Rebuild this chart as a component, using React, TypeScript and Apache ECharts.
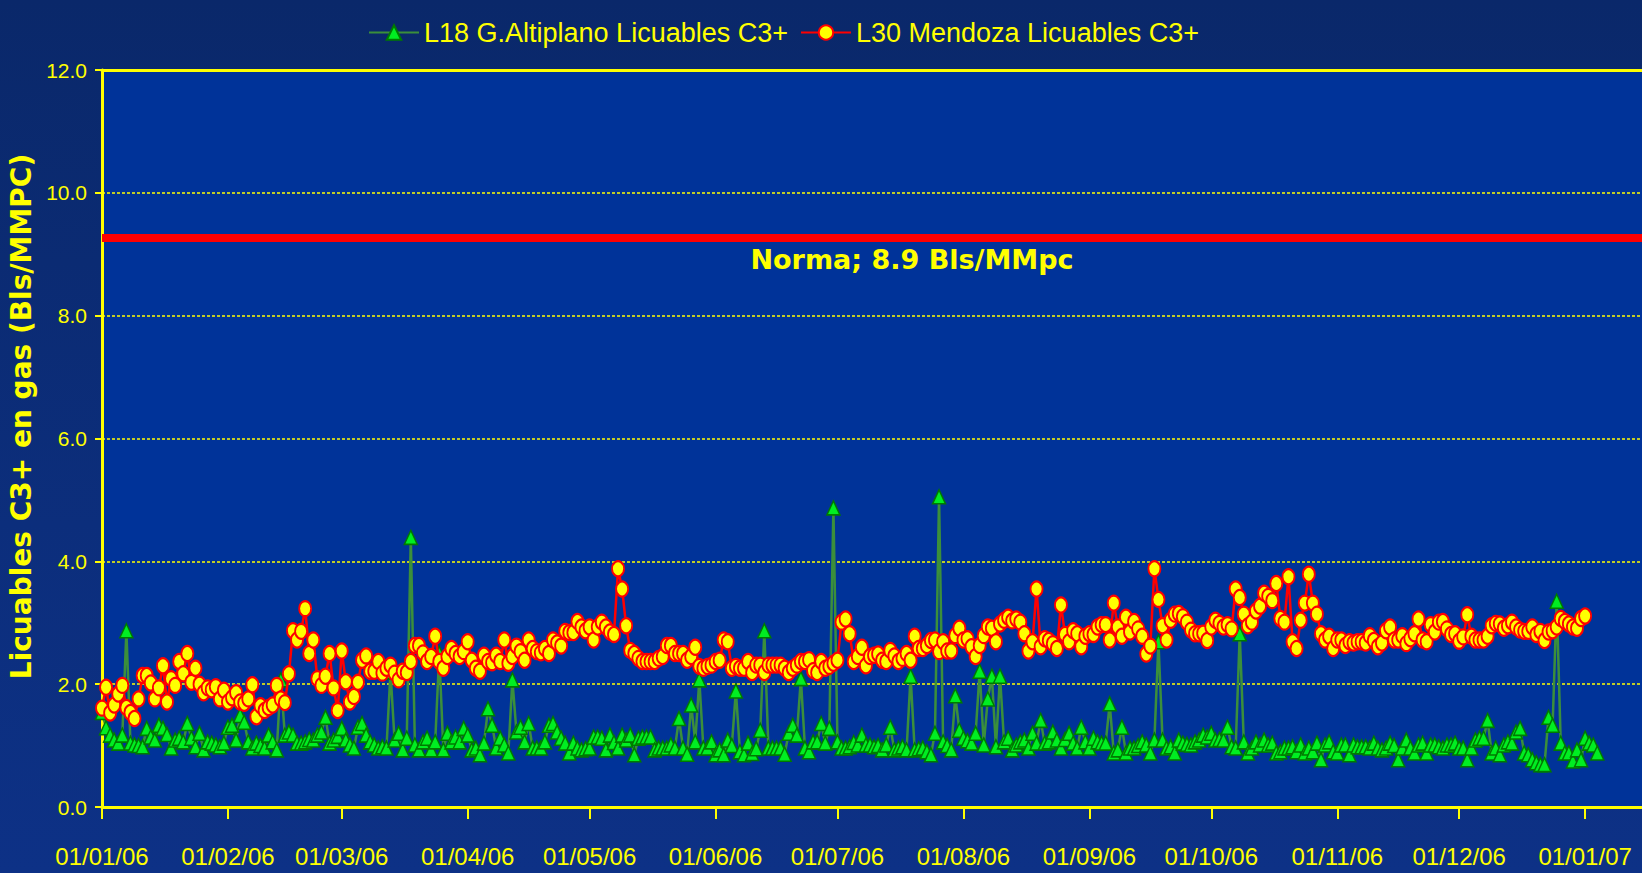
import React, { useEffect, useRef } from "react";
import * as echarts from "echarts";

// ---------- categories (one per day, 01/01/06 .. 15/01/07) ----------
const START_UTC = Date.UTC(2006, 0, 1);
const DAY_COUNT = 380;
const categories: string[] = [];
for (let i = 0; i < DAY_COUNT; i++) {
  const d = new Date(START_UTC + i * 86400000);
  const dd = String(d.getUTCDate()).padStart(2, "0");
  const mm = String(d.getUTCMonth() + 1).padStart(2, "0");
  const yy = String(d.getUTCFullYear() % 100).padStart(2, "0");
  categories.push(`${dd}/${mm}/${yy}`);
}

const SERIES_L18 = "L18 G.Altiplano Licuables C3+";
const SERIES_L30 = "L30 Mendoza Licuables C3+";
const Y_AXIS_NAME = "Licuables C3+ en gas (Bls/MMPC)";
const NORMA_LABEL = "Norma; 8.9 Bls/MMpc";
const NORMA_VALUE = 9.27;
const Y_TICKS = [0, 2, 4, 6, 8, 10, 12];

// ---------- L18 G.Altiplano (green) ----------
const l18Seg1 = [
  1.54, 1.29, 1.17, 1.09, 1.04, 1.17, 2.87, 1.04, 1.01, 1.0,
  0.98, 1.28, 1.14, 1.09, 1.33, 1.28, 1.18, 0.96, 1.09, 1.12,
  1.06, 1.36, 1.12, 0.98, 1.2, 0.93, 1.06, 1.04, 1.01, 0.98,
  1.04, 1.3, 1.33, 1.09, 1.49, 1.38, 1.06, 0.96, 1.04, 1.0,
  0.96, 1.17, 1.06, 0.93, 2.07, 1.17, 1.22, 1.17, 1.04, 1.04,
  1.06, 1.1, 1.09, 1.17, 1.22, 1.46, 1.04, 1.09, 1.15, 1.28,
  1.09, 1.01,
];
const l18Seg2 = [
  0.96, 1.3, 1.36, 1.17, 1.06, 1.01, 0.96, 0.98, 0.96, 2.2,
  1.09, 1.2, 0.93, 1.12, 4.39, 1.01, 0.93, 1.06, 1.12, 0.93,
  1.06, 2.5, 0.93, 1.2, 1.06, 1.14, 1.06, 1.28, 1.17, 0.93,
  0.96, 0.85, 1.04, 1.6, 1.33, 0.96, 1.12, 1.01, 0.88, 2.07,
  1.22, 1.3, 1.06, 1.36, 0.96, 0.96, 0.96, 1.06, 1.33, 1.36,
  1.22, 1.12, 1.04, 0.88, 1.04, 0.96, 0.93, 0.95, 0.96, 1.14,
];
const l18Seg3 = [
  1.14, 1.12, 0.93, 1.17, 1.05, 0.96, 1.17, 1.09, 1.17, 0.85,
  1.12, 1.14, 1.14, 1.14, 0.93, 0.96, 0.96, 0.96, 1.01, 0.96,
  1.44, 0.96, 0.86, 1.66, 1.06, 2.07, 0.96, 0.96, 1.06, 0.85,
  0.93, 0.85, 1.09, 1.0, 1.89, 0.9, 0.85, 1.04, 0.87, 0.95,
  1.25, 2.87, 0.96, 0.96, 0.96, 0.96, 0.86, 1.2, 1.33, 1.17,
  2.09, 0.96, 0.9, 1.06, 1.06, 1.36, 1.04, 1.28, 4.87, 1.06,
  0.96, 0.96,
];
const l18Seg4 = [
  0.98, 1.05, 1.01, 1.17, 1.01, 1.01, 0.98, 1.0, 0.93, 1.01,
  1.3, 0.93, 0.96, 0.98, 0.93, 2.13, 0.93, 0.95, 0.96, 0.9,
  0.85, 1.2, 5.05, 1.06, 1.0, 0.93, 1.81, 1.25, 1.12, 1.08,
  1.04, 1.2, 2.21, 1.01, 1.76, 2.13, 0.98, 2.13, 1.06, 1.12,
  0.93, 1.01, 1.06, 1.09, 0.96, 1.2, 1.04, 1.41, 1.04, 1.06,
  1.22, 1.09, 0.96, 1.1, 1.2, 1.04, 0.96, 1.3, 1.06, 0.96,
  1.12, 1.06,
];
const l18Seg5 = [
  1.04, 1.04, 1.68, 0.88, 0.93, 1.3, 0.88, 0.96, 0.96, 1.0,
  1.06, 1.01, 0.88, 1.09, 2.69, 1.09, 0.96, 0.98, 0.88, 1.09,
  1.04, 1.02, 1.01, 1.06, 1.09, 1.17, 1.14, 1.2, 1.09, 1.1,
  1.09, 1.3, 0.98, 0.96, 2.82, 1.06, 0.88, 0.96, 1.06, 1.01,
  1.09, 1.01, 1.04, 0.88, 0.9, 0.96, 0.96, 0.98, 0.9, 1.01,
  0.88, 0.96, 0.9, 1.04, 0.77, 1.01, 1.06, 0.9, 0.88, 1.01,
];
const l18Seg6 = [
  1.01, 0.85, 1.01, 0.98, 0.98, 0.98, 0.96, 1.04, 0.96, 0.93,
  0.96, 1.04, 1.0, 0.77, 0.96, 1.09, 0.96, 0.88, 1.01, 1.04,
  0.88, 1.01, 1.01, 0.98, 0.96, 1.01, 1.01, 1.04, 0.96, 0.96,
  0.77, 0.96, 1.09, 1.12, 1.12, 1.41, 0.88, 0.96, 0.85, 1.01,
  1.06, 1.04, 1.22, 1.28, 0.88, 0.85, 0.77, 0.72, 0.69, 0.69,
  1.46, 1.33, 3.35, 1.04, 0.88, 0.88, 0.75, 0.93, 0.77, 1.12,
  1.04, 1.01, 0.88,
];

// ---------- L30 Mendoza (red / yellow) ----------
const l30Seg1 = [
  1.61, 1.95, 1.53, 1.66, 1.84, 1.98, 1.62, 1.54, 1.44, 1.76,
  2.14, 2.14, 2.02, 1.76, 1.94, 2.3, 1.71, 2.09, 1.98, 2.37,
  2.17, 2.5, 2.03, 2.26, 2.0, 1.86, 1.94, 1.91, 1.96, 1.76,
  1.9, 1.71, 1.78, 1.86, 1.71, 1.69, 1.76, 1.99, 1.47, 1.65,
  1.57, 1.62, 1.66, 1.98, 1.76, 1.7, 2.17, 2.87, 2.72, 2.86,
  3.23, 2.5, 2.72, 2.09, 1.98, 2.13, 2.5, 1.94, 1.57, 2.54,
  2.04, 1.71,
];
const l30Seg2 = [
  1.8, 2.03, 2.39, 2.46, 2.21, 2.21, 2.37, 2.18, 2.26, 2.31,
  2.18, 2.07, 2.21, 2.19, 2.37, 2.63, 2.63, 2.51, 2.37, 2.45,
  2.78, 2.37, 2.26, 2.45, 2.58, 2.5, 2.45, 2.53, 2.69, 2.39,
  2.26, 2.21, 2.47, 2.37, 2.35, 2.47, 2.37, 2.72, 2.34, 2.45,
  2.62, 2.53, 2.39, 2.72, 2.58, 2.53, 2.51, 2.58, 2.5, 2.72,
  2.67, 2.62, 2.86, 2.84, 2.84, 3.02, 2.93, 2.87, 2.93, 2.72,
];
const l30Seg3 = [
  2.93, 3.01, 2.93, 2.85, 2.81, 3.88, 3.55, 2.95, 2.55, 2.5,
  2.42, 2.37, 2.37, 2.37, 2.37, 2.42, 2.45, 2.63, 2.63, 2.5,
  2.5, 2.5, 2.39, 2.45, 2.6, 2.29, 2.26, 2.29, 2.31, 2.37,
  2.39, 2.72, 2.69, 2.26, 2.29, 2.26, 2.26, 2.37, 2.19, 2.31,
  2.31, 2.19, 2.31, 2.31, 2.31, 2.31, 2.26, 2.19, 2.26, 2.31,
  2.37, 2.37, 2.4, 2.22, 2.19, 2.37, 2.26, 2.29, 2.34, 2.39,
  3.01, 3.06,
];
const l30Seg4 = [
  2.82, 2.37, 2.45, 2.6, 2.3, 2.45, 2.47, 2.49, 2.39, 2.37,
  2.55, 2.46, 2.37, 2.42, 2.5, 2.39, 2.78, 2.58, 2.58, 2.63,
  2.71, 2.72, 2.53, 2.69, 2.54, 2.54, 2.79, 2.91, 2.72, 2.74,
  2.61, 2.45, 2.63, 2.79, 2.93, 2.91, 2.69, 2.98, 3.04, 3.09,
  3.03, 3.06, 3.01, 2.82, 2.54, 2.69, 3.55, 2.61, 2.74, 2.71,
  2.66, 2.58, 3.29, 2.81, 2.69, 2.87, 2.82, 2.61, 2.78, 2.82,
  2.81,
];
const l30Seg5 = [
  2.93, 2.97, 2.97, 2.72, 3.32, 2.93, 2.78, 3.09, 2.85, 3.02,
  2.9, 2.78, 2.49, 2.62, 3.88, 3.38, 2.95, 2.72, 3.04, 3.14,
  3.15, 3.1, 3.01, 2.88, 2.82, 2.82, 2.83, 2.71, 2.93, 3.04,
  2.99, 2.93, 2.97, 2.9, 3.55, 3.41, 3.14, 2.95, 3.01, 3.19,
  3.27, 3.48, 3.43, 3.36, 3.64, 3.07, 3.01, 3.75, 2.69, 2.58,
  3.04, 3.32, 3.79, 3.32, 3.14, 2.82, 2.72, 2.78, 2.58, 2.72,
  2.72,
];
const l30Seg6 = [
  2.63, 2.69, 2.67, 2.69, 2.69, 2.67, 2.79, 2.71, 2.61, 2.67,
  2.87, 2.93, 2.72, 2.72, 2.79, 2.66, 2.74, 2.82, 3.06, 2.72,
  2.69, 2.97, 2.85, 3.01, 3.02, 2.9, 2.81, 2.82, 2.7, 2.77,
  3.13, 2.78, 2.72, 2.72, 2.72, 2.78, 2.95, 2.99, 2.98, 2.91,
  2.95, 3.01, 2.93, 2.88, 2.86, 2.86, 2.93, 2.81, 2.86, 2.71,
  2.85, 2.87, 2.93, 3.07, 3.02, 2.98, 2.93, 2.91, 3.07, 3.11,
];

const l18Values = [...l18Seg1, ...l18Seg2, ...l18Seg3, ...l18Seg4, ...l18Seg5, ...l18Seg6];
const l30Values = [...l30Seg1, ...l30Seg2, ...l30Seg3, ...l30Seg4, ...l30Seg5, ...l30Seg6];

const YELLOW = "#ffff00";
const SANS = "'Liberation Sans', Arial, sans-serif";
const BOLD_FONT = "'DejaVu Sans', Verdana, sans-serif";

const isMonthStart = (_i: number, v: string) => v.startsWith("01/");

export default function App() {
  const ref = useRef<HTMLDivElement>(null);
  useEffect(() => {
    if (!ref.current) return;
    const chart = echarts.init(ref.current, undefined, { renderer: "svg" });
    chart.setOption({
      animation: false,
      backgroundColor: "transparent",
      legend: {
        left: 363,
        top: 14,
        itemWidth: 50,
        itemHeight: 18,
        itemGap: 12,
        textStyle: { color: YELLOW, fontSize: 27, fontFamily: SANS },
        data: [SERIES_L18, SERIES_L30],
      },
      grid: {
        left: 102,
        right: 0,
        top: 70,
        bottom: 66,
        show: true,
        backgroundColor: "#003399",
        borderWidth: 0,
        containLabel: false,
        outerBoundsMode: "none",
      },
      xAxis: [
        {
          type: "category",
          data: categories,
          boundaryGap: false,
          axisLine: { lineStyle: { color: YELLOW, width: 3 } },
          axisTick: {
            interval: isMonthStart,
            length: 12,
            lineStyle: { color: YELLOW, width: 2 },
          },
          axisLabel: {
            interval: isMonthStart,
            color: YELLOW,
            fontSize: 24,
            fontFamily: SANS,
            margin: 37,
          },
          splitLine: { show: false },
        },
        {
          type: "category",
          data: categories,
          boundaryGap: false,
          position: "top",
          axisLine: { lineStyle: { color: YELLOW, width: 3 } },
          axisTick: { show: false },
          axisLabel: { show: false },
          splitLine: { show: false },
        },
      ],
      yAxis: {
        type: "value",
        min: Y_TICKS[0],
        max: Y_TICKS[Y_TICKS.length - 1],
        interval: Y_TICKS[1] - Y_TICKS[0],
        name: Y_AXIS_NAME,
        nameLocation: "middle",
        nameGap: 66,
        nameTextStyle: {
          color: YELLOW,
          fontSize: 28,
          fontWeight: "bold",
          fontFamily: BOLD_FONT,
          padding: [0, 0, 0, 44],
        },
        axisLine: { show: true, lineStyle: { color: YELLOW, width: 3 } },
        axisTick: { show: true, length: 7, lineStyle: { color: YELLOW, width: 2 } },
        axisLabel: {
          color: YELLOW,
          fontSize: 21,
          fontFamily: SANS,
          margin: 15,
          formatter: (v: number) => v.toFixed(1),
        },
        splitLine: {
          show: true,
          lineStyle: { color: YELLOW, width: 1.5, type: [3, 2] },
        },
      },
      series: [
        {
          name: SERIES_L18,
          type: "line",
          data: l18Values,
          symbol: "triangle",
          symbolSize: [13, 14],
          showAllSymbol: true,
          lineStyle: { color: "#3b8f3b", width: 2.5 },
          itemStyle: { color: "#00ee22", borderColor: "#007a00", borderWidth: 1.5 },
          z: 2,
        },
        {
          name: SERIES_L30,
          type: "line",
          data: l30Values,
          symbol: "circle",
          symbolSize: [12, 15],
          showAllSymbol: true,
          lineStyle: { color: "#ff0000", width: 2.5 },
          itemStyle: { color: YELLOW, borderColor: "#ff0000", borderWidth: 2 },
          z: 3,
          markLine: {
            silent: true,
            symbol: ["none", "none"],
            lineStyle: { color: "#ff0000", width: 8, type: "solid" },
            label: {
              show: true,
              position: "insideMiddleBottom",
              distance: 8,
              padding: [0, 0, 0, 80],
              formatter: NORMA_LABEL,
              color: YELLOW,
              fontSize: 27,
              fontWeight: "bold",
              fontFamily: BOLD_FONT,
            },
            data: [{ yAxis: NORMA_VALUE }],
          },
        },
      ],
    });
    return () => chart.dispose();
  }, []);

  return (
    <div
      style={{
        position: "fixed",
        left: 0,
        top: 0,
        width: 1642,
        height: 873,
        background: "linear-gradient(180deg, #0a286a 0%, #0c2e7c 60%, #0d3186 100%)",
      }}
    >
      <div ref={ref} style={{ width: 1642, height: 873 }} />
    </div>
  );
}
